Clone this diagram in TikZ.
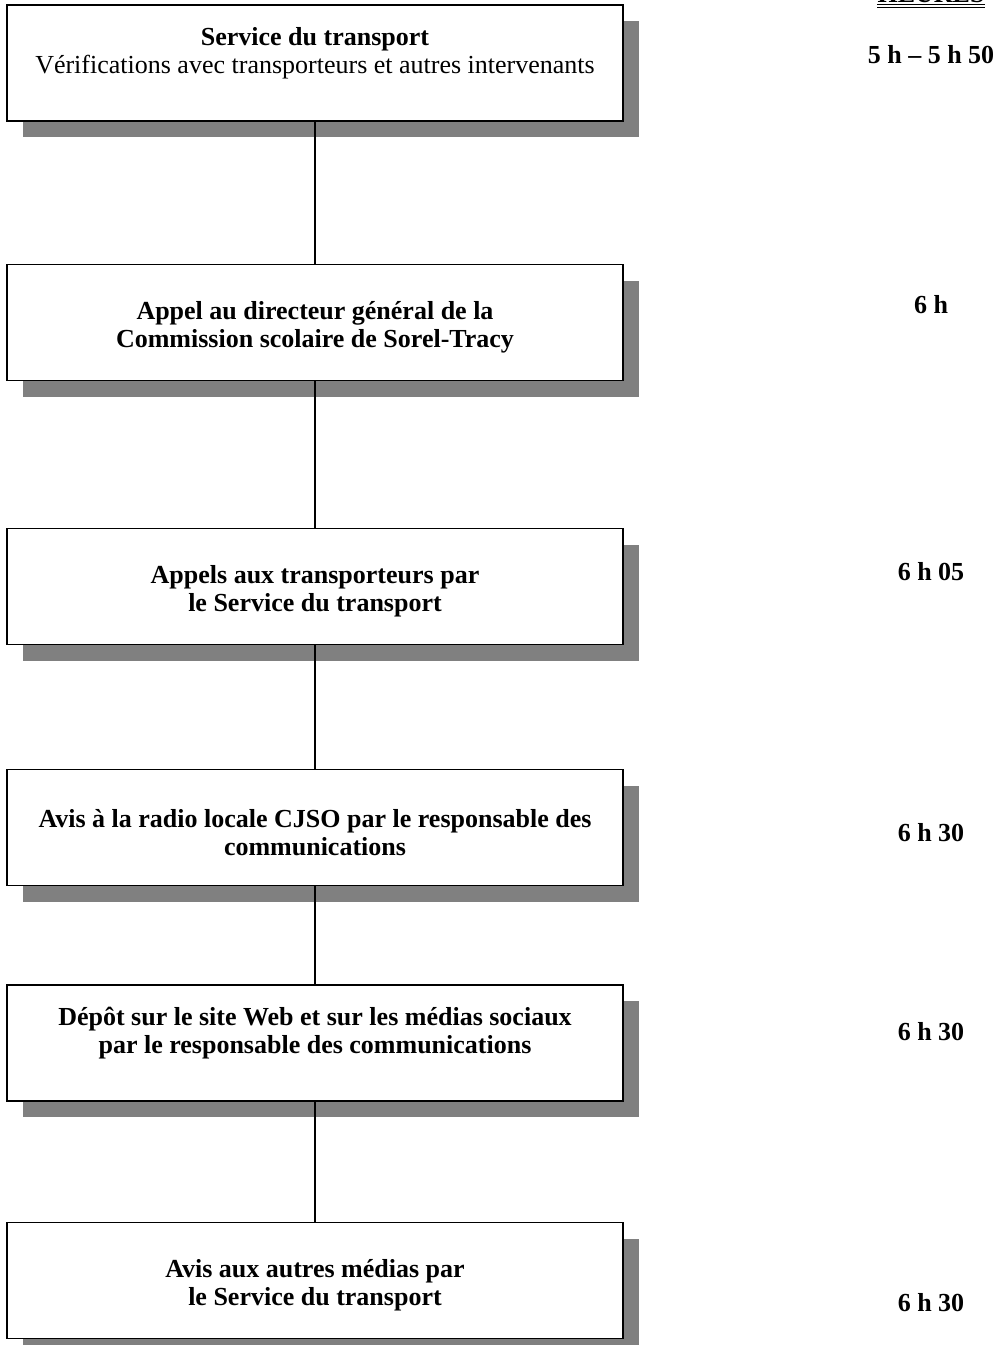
\documentclass[tikz,border=0pt]{standalone}
\usepackage{fontspec}
\setmainfont{Liberation Serif}
\usetikzlibrary{positioning,shadows}
\definecolor{shadowgrey}{RGB}{128,128,128}
\newcommand{\lift}{\rule{0pt}{28.5pt}}
\tikzset{node distance=2cm, auto}
\tikzset{
  stepbox/.style={draw, line width=1.9pt, fill=white, inner sep=0pt,
    minimum width=616pt, minimum height=116pt, align=center,
    font=\fontsize{26}{28}\selectfont\bfseries,
    drop shadow={shadow xshift=16pt, shadow yshift=-16pt, fill=shadowgrey, opacity=1}},
  hour/.style={font=\fontsize{26}{28}\selectfont\bfseries},
  link/.style={line width=1.3pt}
}

\begin{document}
\begin{tikzpicture}[x=1pt, y=-1pt]
  \useasboundingbox (0,0) rectangle (999,1345);

  \node (b1) [stepbox] at (315,63) {\lift Service du transport\\ {\mdseries V\'erifications avec transporteurs et autres intervenants}\\ \strut};
  \node (b2) [stepbox, below of=b1, node distance=259.5pt] {\lift Appel au directeur g\'en\'eral de la\\ Commission scolaire de Sorel-Tracy};
  \node (b3) [stepbox, below of=b2, node distance=264pt] {\lift Appels aux transporteurs par\\ le Service du transport};
  \node (b4) [stepbox, below of=b3, node distance=241pt] {\lift Avis \`a la radio locale CJSO par le responsable des\\ communications};
  \node (b5) [stepbox, below of=b4, node distance=215.5pt] {\lift D\'ep\^ot sur le site Web et sur les m\'edias sociaux\\ par le responsable des communications\\ \strut};
  \node (b6) [stepbox, below of=b5, node distance=237.5pt] {\lift Avis aux autres m\'edias par\\ le Service du transport};

  \draw [link] (b1) -- (b2);
  \draw [link] (b2) -- (b3);
  \draw [link] (b3) -- (b4);
  \draw [link] (b4) -- (b5);
  \draw [link] (b5) -- (b6);

  % heures
  \node (hdr) [hour, anchor=base, inner sep=0pt] at (931,2) {HEURES};
  \draw [double, double distance=1.5pt, line width=1.5pt] ([yshift=-4pt]hdr.base west) -- ([yshift=-4pt]hdr.base east);

  \node (t1) [hour] at (931,55) {5 h – 5 h 50};
  \node (t2) [hour] at (931,305) {6 h};
  \node (t3) [hour] at (931,572) {6 h 05};
  \node (t4) [hour] at (931,833) {6 h 30};
  \node (t5) [hour] at (931,1032) {6 h 30};
  \node (t6) [hour] at (931,1303) {6 h 30};
\end{tikzpicture}
\end{document}
